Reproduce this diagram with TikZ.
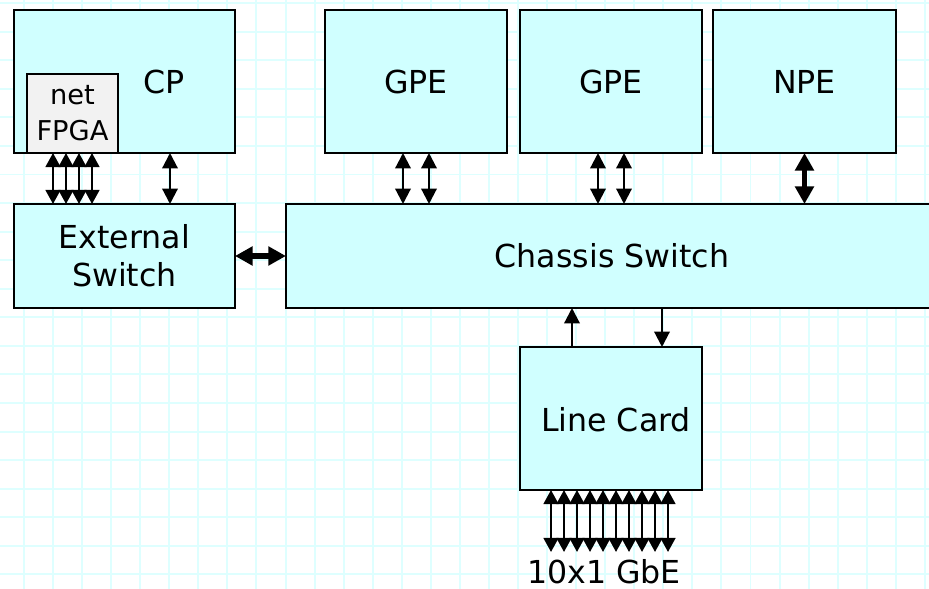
\documentclass[tikz,border=0pt]{standalone}
\usepackage{fontspec}
\setmainfont{DejaVu Sans}
\usetikzlibrary{arrows.meta}
\definecolor{boxcyan}{RGB}{208,255,255}
\definecolor{gridcyan}{RGB}{222,255,255}
\definecolor{fpgagray}{RGB}{242,242,242}
\tikzset{
	unitbox/.style={draw, line width=2pt, fill=boxcyan, inner sep=0pt, outer sep=0pt, align=center, font=\fontsize{22.5}{27}\selectfont},
	boxtext/.style={inner sep=0pt, font=\fontsize{22.5}{27}\selectfont},
	gridline/.style={draw=gridcyan, line width=1.4pt},
	link/.style={line width=1.6pt, {Triangle[length=11pt,width=11pt]}-{Triangle[length=11pt,width=11pt]}},
	thicklink/.style={line width=3.6pt, {Triangle[length=12.5pt,width=13pt]}-{Triangle[length=12.5pt,width=13pt]}},
	portlink/.style={line width=1.6pt, {Triangle[length=10pt,width=10.5pt]}-{Triangle[length=10pt,width=10.5pt]}},
	uplink/.style={line width=1.6pt, -{Triangle[length=11pt,width=11pt]}}
}
\begin{document}
\begin{tikzpicture}[x=0.025cm, y=-0.025cm]
	\useasboundingbox (0,0) rectangle (929,589);
	\fill[white] (0,0) rectangle (929,589);
	\foreach \i in {0,...,31} \draw[gridline] ({24+29.06*\i},0) -- ({24+29.06*\i},589);%Raster vertikal
	\foreach \j in {0,...,20} \draw[gridline] (0,{3.14+28.56*\j}) -- (929,{3.14+28.56*\j});%Raster horizontal

	\node[unitbox, minimum width=5.525cm, minimum height=3.575cm] (cp) at (124.5,81.5) {};%CP
	\node[boxtext] (cplabel) at (164,82) {CP};
	\node[unitbox, fill=fpgagray, font=\fontsize{19.4}{25.6}\selectfont, minimum width=2.275cm, minimum height=1.975cm] (fpga) at (72.5,113.5) {net\\FPGA};
	\node[unitbox, minimum width=4.55cm, minimum height=3.575cm] (gpea) at (416,81.5) {GPE};
	\node[unitbox, minimum width=4.55cm, minimum height=3.575cm] (gpeb) at (611,81.5) {GPE};
	\node[unitbox, minimum width=4.575cm, minimum height=3.575cm] (npe) at (804.5,81.5) {NPE};
	\node[unitbox, minimum width=5.525cm, minimum height=2.6cm] (ext) at (124.5,256) {External\\Switch};
	\node[unitbox, minimum width=16.3cm, minimum height=2.6cm] (chassis) at (612,256) {Chassis Switch};
	\node[unitbox, minimum width=4.55cm, minimum height=3.575cm] (linecard) at (611,418.5) {};%Line Card
	\node[boxtext] (lclabel) at (616,419.5) {Line Card};

	\foreach \x in {53,66,79,92} \draw[portlink] (fpga.south -| \x,0) -- (ext.north -| \x,0);%FPGA ports
	\draw[link] (cp.south -| 170,0) -- (ext.north -| 170,0);
	\foreach \x in {403,429} \draw[link] (gpea.south -| \x,0) -- (chassis.north -| \x,0);
	\foreach \x in {598,624} \draw[link] (gpeb.south -| \x,0) -- (chassis.north -| \x,0);
	\draw[thicklink] (npe.south) -- (npe.south |- chassis.north);
	\draw[thicklink] (ext.east) -- (chassis.west);
	\draw[uplink] (linecard.north -| 572,0) -- (chassis.south -| 572,0);%hoch
	\draw[uplink] (chassis.south -| 662,0) -- (linecard.north -| 662,0);%runter

	\coordinate (gbeend) at (610,552);
	\foreach \x in {551,564,...,668} \draw[portlink] (linecard.south -| \x,0) -- (gbeend -| \x,0);%10 ports
	\node[boxtext] (gbe) at (604,572) {10x1 GbE};
\end{tikzpicture}
\end{document}
